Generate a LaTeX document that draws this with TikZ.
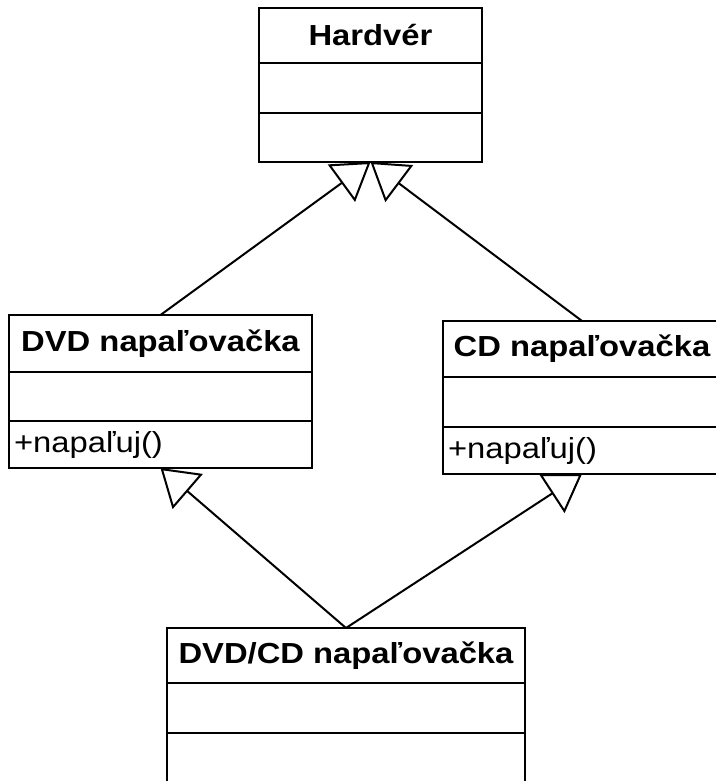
\documentclass[tikz,border=0pt]{standalone}
\usepackage{fontspec}
\setmainfont{Liberation Sans}[FakeStretch=1.13]
\usetikzlibrary{arrows.meta}
\begin{document}
\begin{tikzpicture}[x=0.75pt,y=-0.75pt,
  part/.style={draw, line width=2.2pt, inner sep=0pt, outer sep=0pt, anchor=north west,
    font=\fontsize{21.75}{26}\selectfont},
  sz/.style 2 args={minimum width=#1*0.75pt, minimum height=#2*0.75pt},
  head/.style={part, font=\fontsize{21.75}{26}\selectfont\bfseries},
  meth/.style={part, align=left, inner xsep=3.75pt},
  gen/.style={line width=1.5pt, -{Triangle[open, length=27pt, width=34.5pt, line width=1.5pt]}}
]
\fill[white] (0,0) rectangle (716,781);
\useasboundingbox (0,0) rectangle (716,781);

% Hardver
\node[head, sz={223}{55}] (hw1) at (259,8) {Hardvér};
\node[part, sz={223}{50}] (hw2) at (hw1.south west) {};
\node[part, sz={223}{49}] (hw3) at (hw2.south west) {};

% DVD
\node[head, sz={303}{57}] (dvd1) at (9,315) {DVD napaľovačka};
\node[part, sz={303}{49}] (dvd2) at (dvd1.south west) {};
\node[meth, text width=219.75pt, minimum height=47*0.75pt] (dvd3) at (dvd2.south west) {+napaľuj()};

% CD
\node[head, sz={278}{56}] (cd1) at (443,321) {CD napaľovačka};
\node[part, sz={278}{50}] (cd2) at (cd1.south west) {};
\node[meth, text width=201pt, minimum height=47*0.75pt] (cd3) at (cd2.south west) {+napaľuj()};

% DVD/CD
\node[head, sz={358}{55}] (dc1) at (167,628) {DVD/CD napaľovačka};
\node[part, sz={358}{50}] (dc2) at (dc1.south west) {};
\node[part, sz={358}{60}] (dc3) at (dc2.south west) {};

% generalizations
\draw[gen] (dvd1.north) -- (hw3.south);
\draw[gen] (cd1.north) -- (hw3.south);
\draw[gen] (dc1.north) -- (dvd3.south);
\draw[gen] (dc1.north) -- (cd3.south);
\end{tikzpicture}
\end{document}
